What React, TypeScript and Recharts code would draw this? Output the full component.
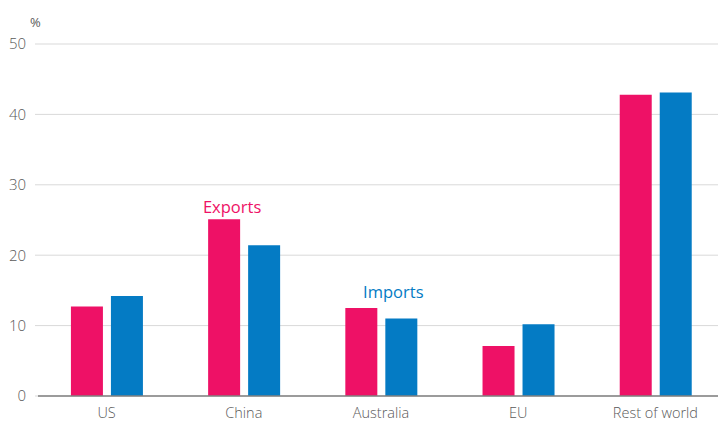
import { Bar, BarChart, CartesianGrid, XAxis, YAxis } from "recharts";

const categories = ["US", "China", "Australia", "EU", "Rest of world"];
const exportsPct = [12.7, 25.1, 12.5, 7.1, 42.8];
const importsPct = [14.2, 21.4, 11.0, 10.2, 43.1];
const yTicks = [0, 10, 20, 30, 40, 50];
const edgeTicks = [0, 1, 2, 3, 4, 5];

const PINK = "#ee1166";
const BLUE = "#047bc4";
const TEXT = "#5a5a5a";
const FONT = "'Open Sans', 'Noto Sans', sans-serif";

const data = categories.map((name, i) => ({
  name,
  exports: exportsPct[i],
  imports: importsPct[i],
}));

// series names sit next to one bar each, like the original annotation
const seriesLabel =
  (text: string, atIndex: number, color: string, dx: number, dy: number) =>
  (props: any) => {
    if (props.index !== atIndex) return null;
    const cx = Number(props.x) + Number(props.width) / 2 + dx;
    return (
      <text
        x={cx}
        y={Number(props.y) - dy}
        textAnchor="middle"
        fill={color}
        fontSize={16.5}
        fontFamily={FONT}
      >
        {text}
      </text>
    );
  };

export default function App() {
  return (
    <div
      style={{
        position: "fixed",
        left: 0,
        top: 0,
        width: 718,
        height: 421,
        overflow: "hidden",
        background: "#fff",
      }}
    >
      <div
        style={{
          position: "absolute",
          left: 30,
          top: 13,
          fontFamily: FONT,
          fontSize: 13,
          color: TEXT,
        }}
      >
        %
      </div>
      <BarChart
        width={740}
        height={421}
        data={data}
        margin={{ top: 44, right: 16, bottom: 0, left: 0 }}
        barCategoryGap="24%"
        barGap={8}
      >
        <CartesianGrid vertical={false} stroke="#d9d9d9" />
        <XAxis
          xAxisId="edges"
          type="number"
          domain={[0, 5]}
          ticks={edgeTicks}
          height={0}
          axisLine={false}
          tickLine={{ stroke: "#555" }}
          tickSize={4}
          tickFormatter={() => ""}
        />
        <XAxis
          dataKey="name"
          height={25}
          axisLine={{ stroke: "#808080", strokeWidth: 1.5 }}
          tickLine={false}
          tickMargin={6}
          tick={{ fill: TEXT, fontSize: 14.5, fontFamily: FONT, fontWeight: 300 }}
        />
        <YAxis
          width={38}
          domain={[0, 50]}
          ticks={yTicks}
          axisLine={false}
          tickLine={{ stroke: "#d9d9d9" }}
          tickSize={3}
          tickMargin={9}
          tick={{ fill: TEXT, fontSize: 15, fontFamily: FONT, fontWeight: 300 }}
        />
        <Bar
          dataKey="exports"
          fill={PINK}
          isAnimationActive={false}
          label={seriesLabel("Exports", 1, PINK, 8, 6)}
        />
        <Bar
          dataKey="imports"
          fill={BLUE}
          isAnimationActive={false}
          label={seriesLabel("Imports", 2, BLUE, -8, 21)}
        />
      </BarChart>
    </div>
  );
}
